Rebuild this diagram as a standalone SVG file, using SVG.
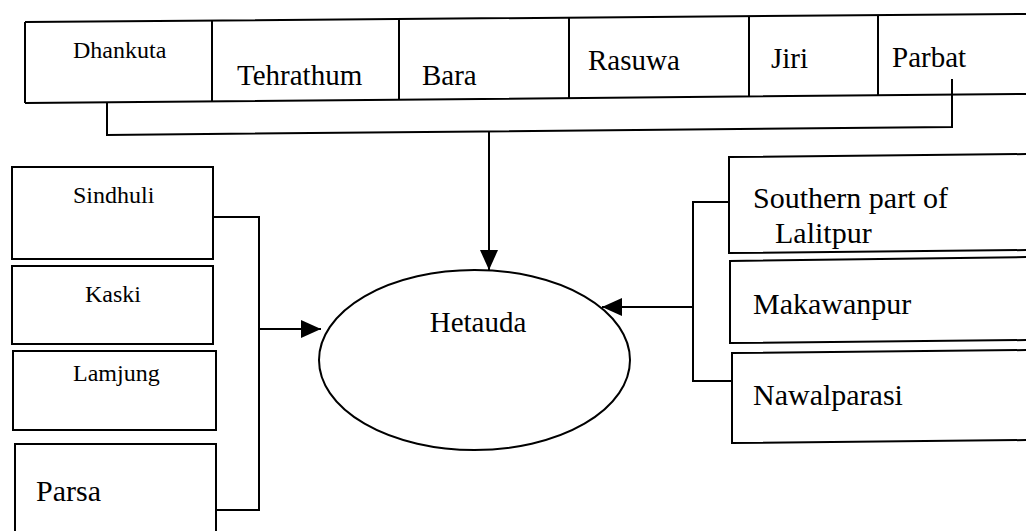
<svg xmlns="http://www.w3.org/2000/svg" width="1026" height="531" viewBox="0 0 1026 531">
<style>
.box{fill:none;stroke:#000;stroke-width:2}
.ln{fill:none;stroke:#000;stroke-width:2}
.s{font-family:"Liberation Serif","Times New Roman",serif;font-size:24px;fill:#000}
.l{font-family:"Liberation Serif","Times New Roman",serif;font-size:29px;fill:#000}
</style>
<defs>
<marker id="ah" viewBox="0 0 20 18" refX="20" refY="9" markerWidth="20" markerHeight="18" markerUnits="userSpaceOnUse" orient="auto">
<path d="M0,0 L20,9 L0,18 z" fill="#000"/>
</marker>
</defs>
<rect width="1026" height="531" fill="#fff"/>
<g id="toprow">
<path class="box" d="M25,22 L1026,14 M25,103 L1026,94 M25,22 L25,103"/>
<g id="dhankuta"><path class="box" d="M212,20.5 L212,101.3"/><text class="s" x="73" y="58">Dhankuta</text></g>
<g id="tehrathum"><path class="box" d="M399,19 L399,99.6"/><text class="l" x="237" y="85">Tehrathum</text></g>
<g id="bara"><path class="box" d="M569,17.7 L569,98.1"/><text class="l" x="422" y="85">Bara</text></g>
<g id="rasuwa"><path class="box" d="M749,16.2 L749,96.5"/><text class="l" x="588" y="70">Rasuwa</text></g>
<g id="jiri"><path class="box" d="M878,15.2 L878,95.3"/><text class="l" x="771" y="68">Jiri</text></g>
<g id="parbat"><text class="l" x="892" y="67">Parbat</text></g>
</g>
<g id="sindhuli"><rect class="box" x="12" y="167" width="201" height="92"/><text class="s" x="73" y="203">Sindhuli</text></g>
<g id="kaski"><rect class="box" x="12" y="266" width="201" height="78"/><text class="s" x="85" y="302">Kaski</text></g>
<g id="lamjung"><rect class="box" x="13" y="351" width="203" height="79"/><text class="s" x="73" y="381">Lamjung</text></g>
<g id="parsa"><path class="box" d="M15,540 L15,444 L216,444 L216,540"/><text class="l" x="36" y="501" style="font-size:30px">Parsa</text></g>
<g id="hetauda"><ellipse class="box" cx="474.5" cy="360" rx="155.5" ry="90"/><text class="l" x="478" y="332" text-anchor="middle">Hetauda</text></g>
<g id="southern"><path class="box" d="M1030,154 L729,157 L729,253 L1030,250"/><text class="l" x="753" y="208" style="font-size:30px">Southern part of</text><text class="l" x="775" y="243" style="font-size:30px">Lalitpur</text></g>
<g id="makawanpur"><path class="box" d="M1030,257 L730,261 L730,343 L1030,340"/><text class="l" x="753" y="314" style="font-size:30px">Makawanpur</text></g>
<g id="nawalparasi"><path class="box" d="M1030,350 L732,353 L732,443 L1030,440"/><text class="l" x="753" y="405" style="font-size:30px">Nawalparasi</text></g>
<g id="connectors">
<path class="ln" d="M107,103 L107,135 L952,127 L952,79"/>
<path class="ln" d="M489,131.4 L489,270" marker-end="url(#ah)"/>
<path class="ln" d="M213,217 L259,217 L259,510 L216,510"/>
<path class="ln" d="M259,329 L321,329" marker-end="url(#ah)"/>
<path class="ln" d="M729,202 L693,202 L693,381 L732,381"/>
<path class="ln" d="M693,307 L602,307" marker-end="url(#ah)"/>
</g>
</svg>
